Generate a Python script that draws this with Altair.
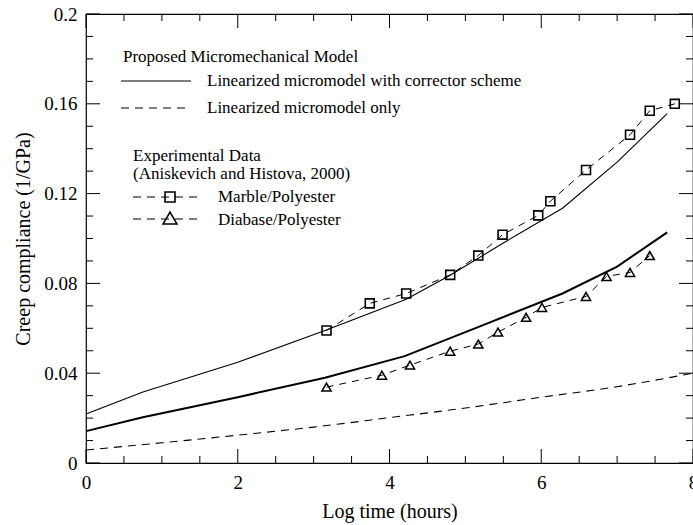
import altair as alt
import pandas as pd

# ---- data ----
upper_x = [0, 0.75, 2.0, 3.15, 4.22, 4.8, 5.5, 6.28, 7.0, 7.66]
upper_y = [0.0218, 0.0316, 0.0449, 0.059, 0.0729, 0.0836, 0.098, 0.1135, 0.134, 0.1556]

lower_x = [0, 0.75, 2.0, 3.15, 4.2, 5.2, 6.28, 7.0, 7.66]
lower_y = [0.0142, 0.0204, 0.0293, 0.038, 0.0476, 0.061, 0.0755, 0.0875, 0.1027]

lin_x = [0, 1, 2, 3, 4, 5, 6, 7, 8]
lin_y = [0.0058, 0.009, 0.0124, 0.016, 0.0202, 0.0245, 0.0293, 0.034, 0.040]

marble_x = [3.17, 3.74, 4.22, 4.80, 5.17, 5.49, 5.96, 6.12, 6.59, 7.17, 7.43, 7.76]
marble_y = [0.059, 0.0711, 0.0755, 0.0838, 0.0924, 0.1017, 0.1103, 0.1166, 0.1305, 0.1462, 0.1569, 0.1600]

diab_x = [3.17, 3.90, 4.27, 4.80, 5.17, 5.43, 5.80, 6.01, 6.59, 6.86, 7.17, 7.43]
diab_y = [0.0338, 0.0391, 0.0436, 0.0498, 0.0530, 0.0583, 0.0649, 0.0693, 0.0742, 0.0831, 0.0849, 0.0924]

x_major = [0, 2, 4, 6, 8]
x_minor = [0.5, 1, 1.5, 2.5, 3, 3.5, 4.5, 5, 5.5, 6.5, 7, 7.5]
y_major = [0, 0.04, 0.08, 0.12, 0.16, 0.2]
y_minor = [0.01, 0.02, 0.03, 0.05, 0.06, 0.07, 0.09, 0.1, 0.11,
           0.13, 0.14, 0.15, 0.17, 0.18, 0.19]

legend_texts = [
    "Proposed Micromechanical Model",
    "Linearized micromodel with corrector scheme",
    "Linearized micromodel only",
    "Experimental Data",
    "(Aniskevich and Histova, 2000)",
    "Marble/Polyester",
    "Diabase/Polyester",
]

x_title = "Log time (hours)"
y_title = "Creep compliance (1/GPa)"

# ---- layout ----
W, H = 607, 449
FONT = "Liberation Serif"

xscale = alt.Scale(domain=[0, 8], nice=False, zero=False)
yscale = alt.Scale(domain=[0, 0.2], nice=False, zero=False)

xaxis = alt.Axis(values=x_major, format="d", title=x_title, ticks=False, tickSize=0,
                 domain=False, grid=False, labelFont=FONT, labelFontSize=19,
                 labelColor="black", labelPadding=10, labelFlush=False,
                 titleFont=FONT, titleFontSize=20, titleFontWeight="normal",
                 titleColor="black", titlePadding=9)
yaxis = alt.Axis(values=y_major, format="~g", title=y_title, ticks=False, tickSize=0,
                 domain=False, grid=False, labelFont=FONT, labelFontSize=19,
                 labelColor="black", labelPadding=9, labelFlush=False,
                 titleFont=FONT, titleFontSize=20, titleFontWeight="normal",
                 titleColor="black", titlePadding=10)


def X(f):
    return alt.X(f"{f}:Q", scale=xscale, axis=xaxis)


def Y(f):
    return alt.Y(f"{f}:Q", scale=yscale, axis=yaxis)


up_df = pd.DataFrame({"x": upper_x, "y": upper_y})
lo_df = pd.DataFrame({"x": lower_x, "y": lower_y})
lin_df = pd.DataFrame({"x": lin_x, "y": lin_y})
mar_df = pd.DataFrame({"x": marble_x, "y": marble_y})
dia_df = pd.DataFrame({"x": diab_x, "y": diab_y})

upper = alt.Chart(up_df).mark_line(color="black", strokeWidth=1.1).encode(x=X("x"), y=Y("y"))
lower = alt.Chart(lo_df).mark_line(color="black", strokeWidth=2).encode(x=X("x"), y=Y("y"))
lin = alt.Chart(lin_df).mark_line(color="black", strokeWidth=1.1, strokeDash=[8, 6],
                                  interpolate="monotone").encode(x=X("x"), y=Y("y"))
mar_line = alt.Chart(mar_df).mark_line(color="black", strokeWidth=1, strokeDash=[7, 6]).encode(x=X("x"), y=Y("y"))
mar_pts = alt.Chart(mar_df).mark_point(shape="square", filled=False, size=80, color="black",
                                       strokeWidth=1.6, opacity=1).encode(x=X("x"), y=Y("y"))
dia_line = alt.Chart(dia_df).mark_line(color="black", strokeWidth=1, strokeDash=[7, 6]).encode(x=X("x"), y=Y("y"))
dia_pts = alt.Chart(dia_df).mark_point(shape="triangle-up", filled=False, size=85, color="black",
                                       strokeWidth=1.5, opacity=1).encode(x=X("x"), y=Y("y"))

# ---- inward ticks on all four sides ----
def xticks(vals, length):
    df = pd.DataFrame({"x": vals})
    bot = alt.Chart(df).mark_rule(color="black", strokeWidth=1).encode(
        x=X("x"), y=alt.value(H), y2=alt.value(H - length))
    top = alt.Chart(df).mark_rule(color="black", strokeWidth=1).encode(
        x=X("x"), y=alt.value(0), y2=alt.value(length))
    return [bot, top]


def yticks(vals, length):
    df = pd.DataFrame({"y": vals})
    left = alt.Chart(df).mark_rule(color="black", strokeWidth=1).encode(
        y=Y("y"), x=alt.value(0), x2=alt.value(length))
    right = alt.Chart(df).mark_rule(color="black", strokeWidth=1).encode(
        y=Y("y"), x=alt.value(W), x2=alt.value(W - length))
    return [left, right]


ticks = xticks(x_major, 14) + xticks(x_minor, 7) + yticks(y_major, 14) + yticks(y_minor, 7)

# ---- legend (drawn inside the plot) ----
one = pd.DataFrame({"k": [0]})


def ltext(t, px, py):
    return alt.Chart(one).mark_text(text=t, font=FONT, fontSize=17, align="left",
                                    baseline="middle", color="black").encode(
        x=alt.value(px), y=alt.value(py))


def lrule(px1, px2, py, dash=None, sw=1.1):
    kw = dict(color="black", strokeWidth=sw)
    if dash:
        kw["strokeDash"] = dash
    return alt.Chart(one).mark_rule(**kw).encode(x=alt.value(px1), x2=alt.value(px2), y=alt.value(py))


def lpoint(shape, px, py, size):
    return alt.Chart(one).mark_point(shape=shape, filled=False, size=size, color="black",
                                     strokeWidth=1.6, opacity=1).encode(x=alt.value(px), y=alt.value(py))


legend = [
    ltext(legend_texts[0], 37, 43),
    lrule(35, 105, 67),
    ltext(legend_texts[1], 121, 67),
    lrule(35, 105, 94, dash=[8, 6]),
    ltext(legend_texts[2], 121, 94),
    ltext(legend_texts[3], 47, 142),
    ltext(legend_texts[4], 47, 160),
    lrule(47, 117, 183, dash=[8, 6], sw=1),
    lpoint("square", 84, 183, 100),
    ltext(legend_texts[5], 132, 183),
    lrule(47, 117, 205, dash=[8, 6], sw=1),
    lpoint("triangle-up", 84, 204, 190),
    ltext(legend_texts[6], 132, 206),
]

chart = alt.layer(
    lin, upper, lower, mar_line, dia_line, mar_pts, dia_pts, *ticks, *legend
).properties(
    width=W, height=H,
    autosize=alt.AutoSizeParams(type="none"),
    padding={"left": 86, "top": 14, "right": 0, "bottom": 60},
    background="white",
).configure_view(stroke="black", strokeWidth=1.2)

chart.save("out.html", embed_options={"renderer": "svg", "actions": False})
